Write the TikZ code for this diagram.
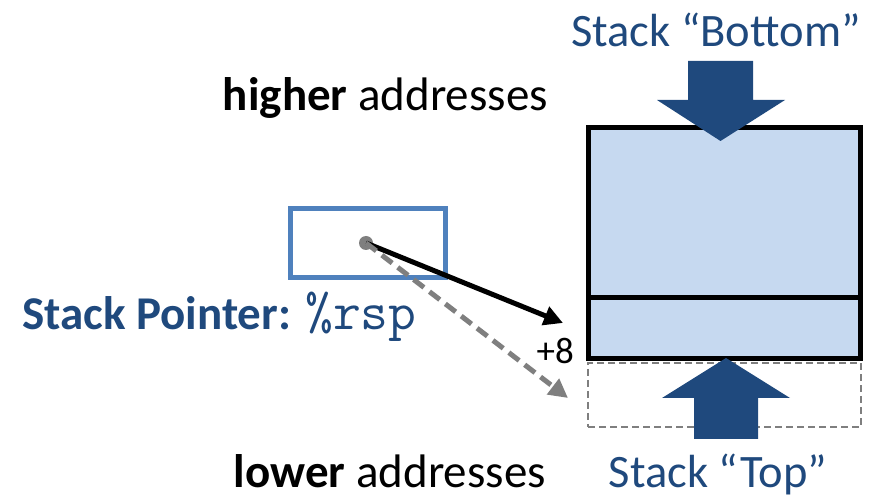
\documentclass[tikz,border=0pt]{standalone}
\usepackage{fontspec}
\setmainfont{Carlito}
\usetikzlibrary{arrows.meta}
\definecolor{dkblue}{HTML}{1F497D}
\definecolor{ltblue}{HTML}{C6D9F0}
\definecolor{midblue}{HTML}{4F81BD}
\definecolor{gry}{HTML}{7F7F7F}
\tikzset{
  big/.style={font=\fontsize{46.5}{50}\selectfont},
  mid/.style={font=\fontsize{47}{52}\selectfont},
  blockarrow/.style={fill=dkblue, draw=none},
  ptr/.style={line width=5pt, -{Triangle[length=19pt,width=19pt]}},
}
\begin{document}
\begin{tikzpicture}[x=1pt,y=-1pt]
\useasboundingbox (0,0) rectangle (884,502);
% stack
\node[draw=none, fill=ltblue, minimum width=272pt, minimum height=231pt, inner sep=0pt, outer sep=0pt] (stack) at (724,243.5) {};
\draw[line width=5pt] (stack.north west) rectangle (stack.south east);
\coordinate (divl) at (588,298);
\coordinate (divr) at (860,298);
\draw[line width=5pt] (divl) -- (divr);
% dashed slot
\node[draw=gry, line width=2.2pt, dash pattern=on 7pt off 4pt, minimum width=273pt, minimum height=64pt, inner sep=0pt] (slot) at (724.5,395) {};
% block arrows
\fill[blockarrow] (688,61) -- (753,61) -- (753,100) -- (785,100) -- (720.5,141) -- (657,100) -- (688,100) -- cycle;
\fill[blockarrow] (726,358) -- (790,398) -- (758,398) -- (758,439) -- (694,439) -- (694,398) -- (662,398) -- cycle;
% labels
\node[big, text=dkblue] (bottomlbl) at (716,30) {Stack “Bottom”};
\node[big, text=dkblue] (toplbl) at (718,474) {Stack “Top”};
\node[mid, anchor=base east, inner sep=0pt] (higher) at (548,111) {\textbf{higher} addresses};
\node[mid, anchor=base east, inner sep=0pt] (lower) at (546,488) {\textbf{lower} addresses};
% pointer box
\node[draw=midblue, line width=5pt, minimum width=155pt, minimum height=69pt, inner sep=0pt] (rspbox) at (367.5,243.5) {};
\node[circle, fill=gry, inner sep=0pt, minimum size=14pt] (dot) at (366,243) {};
\node[mid, anchor=base west, text=dkblue, inner sep=0pt] (sp) at (22,330) {\textbf{Stack Pointer:} {\ttfamily\fontsize{54}{56}\selectfont \%rsp}};
\node[font=\fontsize{37}{40}\selectfont, anchor=base east, inner sep=0pt] (plus8) at (574,364) {+8};
\coordinate (tgt1) at (563,323);
\coordinate (tgt2) at (568,398);
\draw[ptr, black] (dot.center) -- (tgt1);
\draw[ptr, gry, dash pattern=on 13pt off 7pt] (dot.center) -- (tgt2);
\end{tikzpicture}
\end{document}
